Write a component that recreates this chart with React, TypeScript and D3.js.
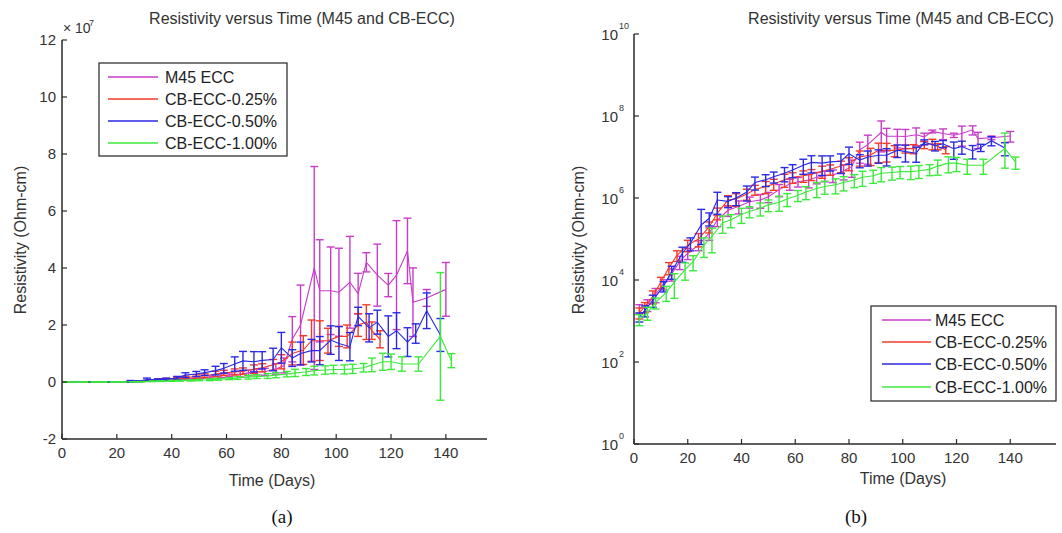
import React from "react";
import * as d3 from "d3";

// ---------- data ----------
const seriesNames = ["M45 ECC", "CB-ECC-0.25%", "CB-ECC-0.50%", "CB-ECC-1.00%"];
const seriesColors = ["#c93cc9", "#f23a26", "#2a2ae6", "#3cea3c"];

const m45Days = [2, 5, 8, 11, 14, 17, 20, 24, 28, 31, 35, 39, 43, 47, 50, 54, 58, 61, 65, 68, 71, 74, 78, 81, 84, 87, 92, 94, 98, 101, 105, 108, 111, 115, 119, 122, 126, 128, 133, 140];
const m45Mean = [2.0e3, 2.5e3, 4.5e3, 7.9e3, 1.4e4, 2.8e4, 4.5e4, 7.1e4, 1.4e5, 2.9e5, 5.0e5, 6.3e5, 8.1e5, 8.9e5, 1.07e6, 1.6e6, 2.2e6, 2.5e6, 2.75e6, 3.2e6, 3.5e6, 3.6e6, 4.6e6, 5.8e6, 1.5e7, 2.0e7, 4.0e7, 3.2e7, 3.2e7, 3.15e7, 3.5e7, 3.1e7, 4.2e7, 3.75e7, 3.4e7, 3.75e7, 4.6e7, 2.8e7, 2.95e7, 3.25e7];
const m45ErrRel = [0.25, 0.32, 0.38, 0.28, 0.33, 0.36, 0.3, 0.27, 0.34, 0.31, 0.29, 0.35, 0.3, 0.37, 0.28, 0.33, 0.3, 0.26, 0.36, 0.31, 0.29, 0.34, 0.4, 0.45, 0.53, 0.7, 0.89, 0.56, 0.48, 0.49, 0.46, 0.23, 0.08, 0.29, 0.12, 0.51, 0.25, 0.43, 0.1, 0.29];

const cb025Days = [2, 4, 7, 10, 13, 16, 20, 24, 28, 31, 35, 38, 42, 45, 49, 52, 56, 59, 63, 66, 70, 73, 77, 80, 84, 88, 91, 94, 97, 101, 104, 108, 111, 113, 116];
const cb025Mean = [1.6e3, 2.2e3, 4.0e3, 8.9e3, 2.0e4, 4.0e4, 7.1e4, 1.0e5, 2.0e5, 4.3e5, 8.9e5, 9.5e5, 1.26e6, 1.6e6, 1.9e6, 2.2e6, 2.8e6, 3.2e6, 3.5e6, 3.8e6, 4.5e6, 5.0e6, 6.0e6, 7.1e6, 1.0e7, 1.12e7, 1.45e7, 1.45e7, 1.45e7, 1.6e7, 1.6e7, 2.0e7, 2.1e7, 1.8e7, 1.5e7];
const cb025ErrRel = [0.3, 0.28, 0.35, 0.3, 0.33, 0.29, 0.31, 0.36, 0.3, 0.32, 0.28, 0.34, 0.3, 0.27, 0.33, 0.3, 0.35, 0.29, 0.31, 0.3, 0.33, 0.28, 0.32, 0.35, 0.4, 0.45, 0.5, 0.48, 0.3, 0.22, 0.25, 0.2, 0.29, 0.17, 0.2];

const cb050Days = [2, 4, 7, 11, 14, 18, 21, 25, 28, 31, 35, 38, 42, 45, 49, 52, 56, 59, 63, 66, 70, 73, 77, 80, 84, 87, 91, 94, 98, 101, 105, 108, 112, 115, 119, 122, 126, 129, 133, 138];
const cb050Mean = [1.26e3, 1.8e3, 3.2e3, 7.1e3, 1.6e4, 4.5e4, 7.9e4, 2.2e5, 3.2e5, 8.9e5, 8.3e5, 1.0e6, 1.4e6, 2.4e6, 2.8e6, 3.3e6, 4.0e6, 4.8e6, 6.3e6, 7.4e6, 7.1e6, 7.6e6, 7.9e6, 1.2e7, 8.4e6, 1.0e7, 1.1e7, 1.1e7, 1.47e7, 1.35e7, 1.24e7, 2.3e7, 1.9e7, 2.1e7, 1.6e7, 1.8e7, 1.4e7, 1.7e7, 2.5e7, 1.65e7];
const cb050ErrRel = [0.25, 0.3, 0.33, 0.28, 0.35, 0.4, 0.35, 1.4, 0.35, 0.55, 0.3, 0.35, 0.4, 0.35, 0.32, 0.3, 0.38, 0.35, 0.4, 0.45, 0.5, 0.4, 0.5, 0.45, 0.35, 0.4, 0.36, 0.45, 0.34, 0.44, 0.4, 0.14, 0.26, 0.2, 0.45, 0.35, 0.36, 0.2, 0.25, 0.35];

const cb100Days = [2, 5, 8, 12, 15, 19, 22, 26, 29, 33, 36, 40, 43, 47, 50, 54, 57, 61, 64, 68, 71, 75, 78, 82, 85, 89, 92, 96, 99, 103, 106, 110, 113, 117, 120, 124, 130, 138, 142];
const cb100Mean = [1.1e3, 1.6e3, 2.8e3, 5.0e3, 8.9e3, 1.8e4, 2.8e4, 7.1e4, 1.15e5, 2.5e5, 2.9e5, 4.0e5, 4.7e5, 5.6e5, 6.8e5, 7.9e5, 9.5e5, 1.17e6, 1.4e6, 1.7e6, 1.9e6, 2.1e6, 2.4e6, 2.75e6, 3.2e6, 3.5e6, 4.0e6, 4.2e6, 4.4e6, 4.4e6, 4.6e6, 5.0e6, 6.0e6, 7.1e6, 7.1e6, 6.3e6, 6.3e6, 1.6e7, 7.5e6];
const cb100ErrRel = [0.3, 0.35, 0.3, 0.4, 0.6, 0.45, 0.4, 0.5, 0.6, 0.45, 0.35, 0.4, 0.3, 0.35, 0.32, 0.4, 0.35, 0.3, 0.35, 0.4, 0.35, 0.4, 0.38, 0.35, 0.4, 0.35, 0.38, 0.35, 0.33, 0.36, 0.35, 0.3, 0.4, 0.42, 0.38, 0.4, 0.4, 1.4, 0.33];

const xTicksA = [0, 20, 40, 60, 80, 100, 120, 140];
const yTicksA = [-2, 0, 2, 4, 6, 8, 10, 12];
const xTicksB = [0, 20, 40, 60, 80, 100, 120, 140];
const yTicksBExp = [0, 2, 4, 6, 8, 10];

const titleText = "Resistivity versus Time (M45 and CB-ECC)";
const xLabelText = "Time (Days)";
const yLabelText = "Resistivity (Ohm-cm)";

// ---------- helpers ----------
type Pt = { d: number; m: number; e: number };
const allSeries: Pt[][] = [
  [m45Days, m45Mean, m45ErrRel],
  [cb025Days, cb025Mean, cb025ErrRel],
  [cb050Days, cb050Mean, cb050ErrRel],
  [cb100Days, cb100Mean, cb100ErrRel],
].map(([ds, ms, es]) => ds.map((d, i) => ({ d, m: ms[i], e: es[i] * ms[i] })));

const FONT = "'Liberation Sans', Arial, Helvetica, sans-serif";
const AX = "#2a2a2a";
const TXT = "#333";
const CAP = 4;

function ErrSeries({ pts, color, x, y, log }: { pts: Pt[]; color: string; x: (v: number) => number; y: (v: number) => number; log: boolean }) {
  const line = d3.line<Pt>().x((p) => x(p.d)).y((p) => y(p.m));
  return (
    <g>
      <path d={line(pts) || ""} fill="none" stroke={color} strokeWidth={1.1} />
      {pts.map((p, i) => {
        const hi = p.m + p.e;
        const lo = log ? Math.max(p.m - p.e, p.m / 3) : p.m - p.e;
        const cx = x(p.d);
        const y1 = y(hi);
        const y2 = y(lo);
        return (
          <g key={i} stroke={color} strokeWidth={1.4}>
            <line x1={cx} x2={cx} y1={y1} y2={y2} />
            <line x1={cx - CAP} x2={cx + CAP} y1={y1} y2={y1} />
            <line x1={cx - CAP} x2={cx + CAP} y1={y2} y2={y2} />
          </g>
        );
      })}
    </g>
  );
}

function Legend({ x0, y0, w, h, rows, lx1, lx2, tx }: { x0: number; y0: number; w: number; h: number; rows: number[]; lx1: number; lx2: number; tx: number }) {
  return (
    <g>
      <rect x={x0} y={y0} width={w} height={h} fill="#fff" stroke="#222" strokeWidth={1.2} />
      {seriesNames.map((n, i) => (
        <g key={n}>
          <line x1={lx1} x2={lx2} y1={rows[i]} y2={rows[i]} stroke={seriesColors[i]} strokeWidth={1.5} />
          <text x={tx} y={rows[i]} dy="0.36em" fontSize={16} fontFamily={FONT} fill="#222">{n}</text>
        </g>
      ))}
    </g>
  );
}

function PanelA() {
  const x = d3.scaleLinear().domain([0, 155]).range([62, 487]);
  const y = d3.scaleLinear().domain([-2e7, 12e7]).range([439, 40]);
  return (
    <g>
      <text x={302} y={24} textAnchor="middle" fontSize={16} fontFamily={FONT} fill={TXT}>{titleText}</text>
      {allSeries.map((s, i) => (
        <ErrSeries key={i} pts={s} color={seriesColors[i]} x={x} y={y} log={false} />
      ))}
      <line x1={62} x2={62} y1={40} y2={439} stroke={AX} strokeWidth={1.5} />
      <line x1={62} x2={487} y1={439} y2={439} stroke={AX} strokeWidth={1.5} />
      {yTicksA.map((t) => (
        <g key={t}>
          <line x1={62} x2={67} y1={y(t * 1e7)} y2={y(t * 1e7)} stroke={AX} strokeWidth={1.2} />
          <text x={56} y={y(t * 1e7)} dy="0.36em" textAnchor="end" fontSize={15} fontFamily={FONT} fill={TXT}>{t}</text>
        </g>
      ))}
      {xTicksA.map((t) => (
        <g key={t}>
          <line x1={x(t)} x2={x(t)} y1={439} y2={434} stroke={AX} strokeWidth={1.2} />
          <text x={x(t)} y={458} textAnchor="middle" fontSize={15} fontFamily={FONT} fill={TXT}>{t}</text>
        </g>
      ))}
      <text x={63} y={33} fontSize={14} fontFamily={FONT} fill={TXT}>× 10</text>
      <text x={89} y={26} fontSize={9} fontFamily={FONT} fill={TXT}>7</text>
      <text x={272} y={486} textAnchor="middle" fontSize={16} fontFamily={FONT} fill={TXT}>{xLabelText}</text>
      <text transform="translate(26,240) rotate(-90)" textAnchor="middle" fontSize={16} fontFamily={FONT} fill={TXT}>{yLabelText}</text>
      <Legend x0={99} y0={63} w={188} h={93} rows={[77, 99, 121, 143]} lx1={108} lx2={158} tx={165} />
      <text x={282} y={523} textAnchor="middle" fontSize={19} fontFamily="'Liberation Serif', 'Times New Roman', serif" fill="#111">(a)</text>
    </g>
  );
}

function PanelB() {
  const x = d3.scaleLinear().domain([0, 160]).range([634, 1064]);
  const y = d3.scaleLog().domain([1, 1e10]).range([444, 34]);
  return (
    <g>
      <text x={901} y={24} textAnchor="middle" fontSize={16} fontFamily={FONT} fill={TXT}>{titleText}</text>
      {allSeries.map((s, i) => (
        <ErrSeries key={i} pts={s} color={seriesColors[i]} x={x} y={y} log={true} />
      ))}
      <line x1={634} x2={634} y1={34} y2={444} stroke={AX} strokeWidth={1.5} />
      <line x1={634} x2={1056} y1={444} y2={444} stroke={AX} strokeWidth={1.5} />
      {yTicksBExp.map((t) => (
        <g key={t}>
          <line x1={634} x2={639} y1={y(Math.pow(10, t))} y2={y(Math.pow(10, t))} stroke={AX} strokeWidth={1.2} />
          <text x={618} y={y(Math.pow(10, t))} dy="0.4em" textAnchor="end" fontSize={15} fontFamily={FONT} fill={TXT}>10</text>
          <text x={619} y={y(Math.pow(10, t)) - 5} fontSize={9} fontFamily={FONT} fill={TXT}>{t}</text>
        </g>
      ))}
      {xTicksB.map((t) => (
        <g key={t}>
          <line x1={x(t)} x2={x(t)} y1={444} y2={439} stroke={AX} strokeWidth={1.2} />
          <text x={x(t)} y={463} textAnchor="middle" fontSize={15} fontFamily={FONT} fill={TXT}>{t}</text>
        </g>
      ))}
      <text x={903} y={484} textAnchor="middle" fontSize={16} fontFamily={FONT} fill={TXT}>{xLabelText}</text>
      <text transform="translate(584,240) rotate(-90)" textAnchor="middle" fontSize={16} fontFamily={FONT} fill={TXT}>{yLabelText}</text>
      <Legend x0={871} y0={306} w={185} h={95} rows={[320, 342, 364, 387]} lx1={882} lx2={931} tx={935} />
      <text x={856} y={523} textAnchor="middle" fontSize={19} fontFamily="'Liberation Serif', 'Times New Roman', serif" fill="#111">(b)</text>
    </g>
  );
}

export default function App() {
  return (
    <svg width={1062} height={533} viewBox="0 0 1062 533" style={{ position: "absolute", left: 0, top: 0, background: "#fff" }}>
      <rect width={1062} height={533} fill="#fff" />
      <PanelA />
      <PanelB />
    </svg>
  );
}
